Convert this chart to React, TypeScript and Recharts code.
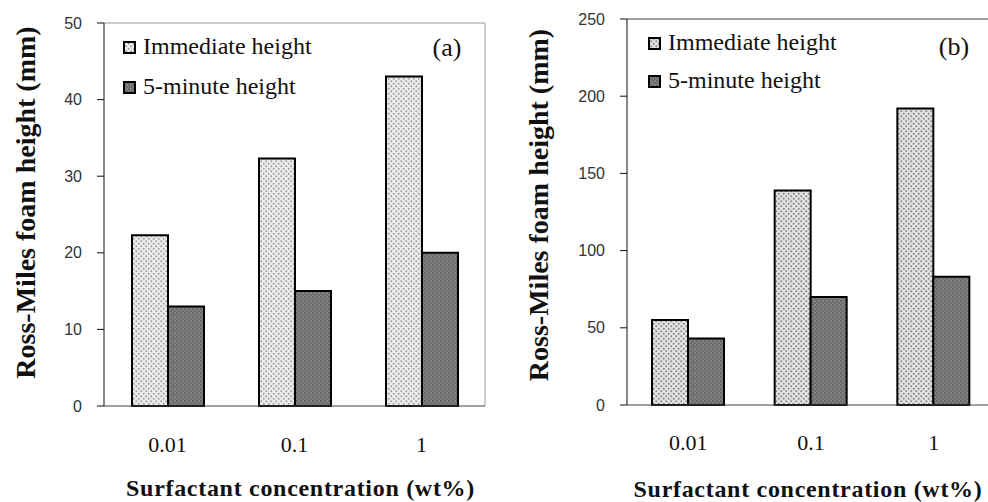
import React from 'react';
import { BarChart, Bar, XAxis, YAxis, Legend, Label } from 'recharts';

const categories = ['0.01', '0.1', '1'];
const immediateA = [22.3, 32.3, 43];
const fiveMinA = [13, 15, 20];
const immediateB = [55, 139, 192];
const fiveMinB = [43, 70, 83];
const ticksA = [0, 10, 20, 30, 40, 50];
const ticksB = [0, 50, 100, 150, 200, 250];
const boundaryTicks = [0, 1, 2, 3];
const seriesNames = ['Immediate height', '5-minute height'];
const xTitle = 'Surfactant concentration (wt%)';
const yTitle = 'Ross-Miles foam height (mm)';

const SERIF = '"Liberation Serif", "Times New Roman", serif';
const SANS = '"Liberation Sans", Arial, sans-serif';

type PanelCfg = {
  id: string;
  tag: string;
  imm: number[];
  five: number[];
  ticks: number[];
  width: number;
  top: number;
  right: number;
  yWidth: number;
  catHeight: number;
  borderColor: string;
  immBg: string;
  immDot: string;
  yTitleX: number;
  yTitleDy: number;
  xTitleDx: number;
  xTitleDy: number;
  tickDy: number;
  legendX: number;
  legendY: number[];
  tagX: number;
  tagY: number;
};

const CatTick = (dy: number) => (props: any) => {
  const { x, y, payload } = props;
  return (
    <text x={x} y={y + dy} textAnchor="middle" fontFamily={SERIF} fontSize={22} fill="#111">
      {payload.value}
    </text>
  );
};

const Panel = ({ cfg }: { cfg: PanelCfg }) => {
  const data = categories.map((c, i) => ({ c, imm: cfg.imm[i], five: cfg.five[i] }));
  const max = cfg.ticks[cfg.ticks.length - 1];
  const immId = `imm-${cfg.id}`;
  const fiveId = `five-${cfg.id}`;

  const XTitle = (p: any) => {
    const vb = p.viewBox || {};
    return (
      <text
        x={vb.x + vb.width / 2 + cfg.xTitleDx}
        y={vb.y + cfg.xTitleDy}
        textAnchor="middle"
        fontFamily={SERIF}
        fontWeight="bold"
        fontSize={24}
        letterSpacing={0.7}
        fill="#111"
      >
        {xTitle}
      </text>
    );
  };

  const YTitle = (p: any) => {
    const vb = p.viewBox || {};
    const bx = vb.x + cfg.yTitleX;
    const cy = vb.y + vb.height / 2 + cfg.yTitleDy;
    return (
      <text
        x={bx}
        y={cy}
        transform={`rotate(-90, ${bx}, ${cy})`}
        textAnchor="middle"
        fontFamily={SERIF}
        fontWeight="bold"
        fontSize={28}
        fill="#111"
      >
        {yTitle}
      </text>
    );
  };

  const LegendContent = (props: any) => {
    const payload = [...(props.payload || [])].sort(
      (a: any, b: any) => seriesNames.indexOf(a.value) - seriesNames.indexOf(b.value)
    );
    return (
      <svg width={cfg.width} height={110} style={{ display: 'block', overflow: 'visible' }}>
        {payload.map((p: any, i: number) => (
          <g key={i}>
            <rect
              x={cfg.legendX}
              y={cfg.legendY[i] - 12}
              width={11}
              height={11}
              fill={p.color}
              stroke="#000"
              strokeWidth={2}
            />
            <text x={cfg.legendX + 19} y={cfg.legendY[i]} fontFamily={SERIF} fontSize={24} fill="#111">
              {p.value}
            </text>
          </g>
        ))}
        <text x={cfg.tagX} y={cfg.tagY} textAnchor="middle" fontFamily={SERIF} fontSize={26} fill="#111">
          {cfg.tag}
        </text>
      </svg>
    );
  };

  return (
    <BarChart
      width={cfg.width}
      height={502}
      data={data}
      margin={{ top: cfg.top, right: cfg.right, bottom: 0, left: 0 }}
      barGap={0}
      barSize={36}
    >
      <defs>
        <pattern id={immId} width={5} height={5} patternUnits="userSpaceOnUse">
          <rect width={5} height={5} fill={cfg.immBg} />
          <circle cx={1.25} cy={1.25} r={1} fill={cfg.immDot} />
          <circle cx={3.75} cy={3.75} r={1} fill={cfg.immDot} />
        </pattern>
        <pattern id={fiveId} width={4} height={4} patternUnits="userSpaceOnUse">
          <rect width={4} height={4} fill="#7c7c7c" />
          <circle cx={1} cy={1} r={0.8} fill="#4e4e4e" />
          <circle cx={3} cy={3} r={0.8} fill="#585858" />
          <circle cx={3} cy={1} r={0.6} fill="#a0a0a0" />
        </pattern>
      </defs>
      <XAxis
        xAxisId={0}
        type="number"
        domain={[0, 3]}
        ticks={boundaryTicks}
        tick={false}
        tickSize={6}
        height={1}
        stroke="#444"
        allowDataOverflow
      />
      <XAxis
        xAxisId="cat"
        dataKey="c"
        type="category"
        axisLine={false}
        tickLine={false}
        tickSize={0}
        tickMargin={0}
        height={cfg.catHeight}
        interval={0}
        tick={CatTick(cfg.tickDy)}
      >
        <Label content={XTitle} />
      </XAxis>
      <XAxis
        xAxisId="top"
        orientation="top"
        type="number"
        domain={[0, 1]}
        tick={false}
        tickLine={false}
        height={1}
        stroke={cfg.borderColor}
      />
      <YAxis
        yAxisId={0}
        domain={[0, max]}
        ticks={cfg.ticks}
        width={cfg.yWidth}
        tickSize={7}
        tickMargin={15}
        stroke="#111"
        interval={0}
        tick={{ fontFamily: SANS, fontSize: 16, fill: '#333' }}
      >
        <Label content={YTitle} />
      </YAxis>
      <YAxis
        yAxisId="right"
        orientation="right"
        domain={[0, max]}
        width={1}
        tick={false}
        tickLine={false}
        stroke={cfg.borderColor}
      />
      <Bar
        dataKey="imm"
        name={seriesNames[0]}
        xAxisId="cat"
        yAxisId={0}
        fill={`url(#${immId})`}
        stroke="#000"
        strokeWidth={2}
        isAnimationActive={false}
      />
      <Bar
        dataKey="five"
        name={seriesNames[1]}
        xAxisId="cat"
        yAxisId={0}
        fill={`url(#${fiveId})`}
        stroke="#000"
        strokeWidth={2}
        isAnimationActive={false}
      />
      <Legend
        layout="vertical"
        align="center"
        verticalAlign="middle"
        content={LegendContent}
        wrapperStyle={{ left: 0, top: 0, width: cfg.width, height: 110 }}
      />
    </BarChart>
  );
};

const cfgA: PanelCfg = {
  id: 'a',
  tag: '(a)',
  imm: immediateA,
  five: fiveMinA,
  ticks: ticksA,
  width: 500,
  top: 22,
  right: 14,
  yWidth: 104,
  catHeight: 95,
  borderColor: '#999',
  immBg: '#ececec',
  immDot: '#a0a0a0',
  yTitleX: 35,
  yTitleDy: -12,
  xTitleDx: 6,
  xTitleDy: 89,
  tickDy: 45,
  legendX: 124,
  legendY: [54, 94],
  tagX: 447,
  tagY: 56,
};

const cfgB: PanelCfg = {
  id: 'b',
  tag: '(b)',
  imm: immediateB,
  five: fiveMinB,
  ticks: ticksB,
  width: 500,
  top: 18,
  right: 4,
  yWidth: 127,
  catHeight: 96,
  borderColor: '#444',
  immBg: '#e2e2e2',
  immDot: '#888',
  yTitleX: 48,
  yTitleDy: -7,
  xTitleDx: -3,
  xTitleDy: 91,
  tickDy: 44,
  legendX: 149,
  legendY: [50, 88],
  tagX: 454,
  tagY: 55,
};

export default function App() {
  return (
    <div
      style={{
        position: 'absolute',
        left: 0,
        top: 0,
        width: 988,
        height: 502,
        overflow: 'hidden',
        background: '#fff',
      }}
    >
      <div style={{ position: 'absolute', left: 0, top: 0 }}>
        <Panel cfg={cfgA} />
      </div>
      <div style={{ position: 'absolute', left: 500, top: 0 }}>
        <Panel cfg={cfgB} />
      </div>
    </div>
  );
}
